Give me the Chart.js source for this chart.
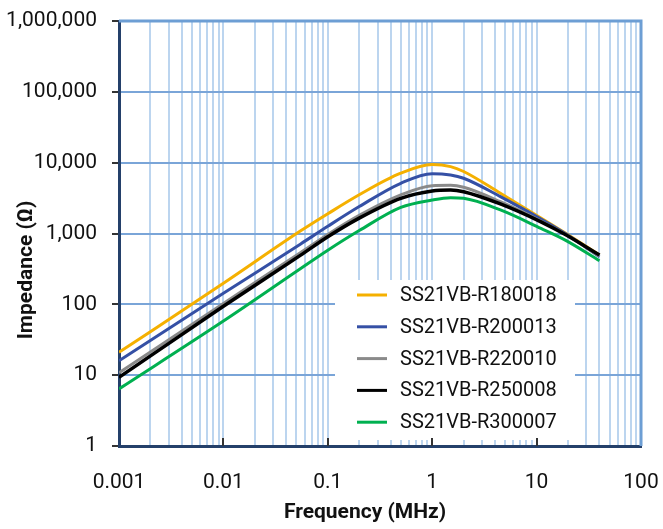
<!DOCTYPE html>
<html>
<head>
<meta charset="utf-8">
<title>Impedance vs Frequency</title>
<script src="https://cdn.jsdelivr.net/npm/chart.js@4.4.1/dist/chart.umd.min.js"></script>
<style>
  html, body { margin: 0; padding: 0; background: #fff; }
  #wrap { width: 663px; height: 529px; }
</style>
</head>
<body>
<div id="wrap"><canvas id="impChart" width="663" height="529"></canvas></div>
<script>
const FONT = "Roboto, 'DejaVu Sans Condensed', sans-serif";

// frequency (MHz) where the curves were read
const freqMHz = [0.001, 0.01, 0.055, 0.1, 0.2, 0.5, 1, 1.5, 2, 4.5, 11, 19, 40];

const seriesNames = ["SS21VB-R180018", "SS21VB-R200013", "SS21VB-R220010", "SS21VB-R250008", "SS21VB-R300007"];
const seriesColors = ["#f5b000", "#3550a5", "#8a8a8a", "#000000", "#00b050"];

// impedance (ohm)
const zR180018 = [21, 198, 1090, 1900, 3520, 7100, 9400, 8800, 7500, 3700, 1660, 1005, 497];
const zR200013 = [16, 143, 713, 1265, 2400, 5120, 7000, 6700, 6020, 3310, 1600, 990, 471];
const zR220010 = [10.8, 103, 540, 970, 1800, 3500, 4730, 4790, 4490, 2810, 1500, 970, 481];
const zR250008 = [9.3, 94, 495, 900, 1650, 3140, 3990, 4110, 3890, 2610, 1460, 960, 497];
const zR300007 = [6.4, 58, 320, 580, 1100, 2340, 2970, 3200, 3140, 2150, 1180, 800, 413];

const xTickValues = [0.001, 0.01, 0.1, 1, 10, 100];
const xTickLabels = ["0.001", "0.01", "0.1", "1", "10", "100"];
const yTickValues = [1, 10, 100, 1000, 10000, 100000, 1000000];
const yTickLabels = ["1", "10", "100", "1,000", "10,000", "100,000", "1,000,000"];

const allZ = [zR180018, zR200013, zR220010, zR250008, zR300007];

function toPoints(zs) {
  return freqMHz.map((f, i) => ({ x: f, y: zs[i] }));
}

const datasets = allZ.map((zs, i) => ({
  label: seriesNames[i],
  data: toPoints(zs),
  borderColor: seriesColors[i],
  borderWidth: i === 3 ? 3.5 : 3,
  pointRadius: 0,
  cubicInterpolationMode: "monotone",
  fill: false,
  order: allZ.length - i, // later series drawn on top
}));

// log grid on x: 1..9 per decade
function xGridTicks() {
  const ticks = [];
  for (let d = 0; d < xTickValues.length - 1; d++) {
    for (let m = 1; m <= 9; m++) {
      ticks.push({ value: xTickValues[d] * m, major: m === 1 });
    }
  }
  ticks.push({ value: xTickValues[xTickValues.length - 1], major: true });
  return ticks;
}

const chartDecor = {
  id: "chartDecor",
  beforeDatasetsDraw(chart) {
    const { ctx, chartArea: a } = chart;
    ctx.save();
    ctx.strokeStyle = "#6d9ed4";
    ctx.lineWidth = 3;
    ctx.beginPath();
    ctx.moveTo(a.left, a.top);
    ctx.lineTo(a.right, a.top);
    ctx.lineTo(a.right, a.bottom);
    ctx.stroke();
    ctx.restore();
  },
  afterDatasetsDraw(chart) {
    // legend box inside the plot
    const { ctx, chartArea: a } = chart;
    const bx = a.left + 216;
    const by = a.top + 259;
    ctx.save();
    ctx.fillStyle = "#ffffff";
    ctx.fillRect(bx, by, 240, 160);
    ctx.font = "20px " + FONT;
    ctx.textBaseline = "middle";
    ctx.textAlign = "left";
    chart.data.datasets.forEach((ds, i) => {
      const y = by + 15 + i * 31.8;
      ctx.strokeStyle = ds.borderColor;
      ctx.lineWidth = 3;
      ctx.beginPath();
      ctx.moveTo(bx + 22, y);
      ctx.lineTo(bx + 52, y);
      ctx.stroke();
      ctx.fillStyle = "#111";
      ctx.fillText(ds.label, bx + 65, y + 1);
    });
    ctx.restore();
  },
  afterDraw(chart) {
    const { ctx, chartArea: a } = chart;
    const xs = chart.scales.x;
    ctx.save();
    // small tick marks inside, on the bottom axis
    ctx.strokeStyle = "#333";
    ctx.lineWidth = 2;
    xTickValues.slice(1, -1).forEach((v) => {
      const px = Math.round(xs.getPixelForValue(v));
      ctx.beginPath();
      ctx.moveTo(px, a.bottom);
      ctx.lineTo(px, a.bottom - 8);
      ctx.stroke();
    });
    // axis titles
    ctx.fillStyle = "#111";
    ctx.font = "bold 21px " + FONT;
    ctx.textAlign = "center";
    ctx.textBaseline = "alphabetic";
    ctx.fillText("Frequency (MHz)", a.left + 246, a.bottom + 72);
    ctx.translate(32, a.top + 249);
    ctx.rotate(-Math.PI / 2);
    ctx.fillText("Impedance (\u03A9)", 0, 0);
    ctx.restore();
  },
};

new Chart(document.getElementById("impChart"), {
  type: "line",
  data: { datasets },
  options: {
    responsive: false,
    animation: false,
    layout: { padding: { top: 21, right: 22, left: 0, bottom: 0 } },
    plugins: {
      legend: { display: false },
      tooltip: { enabled: false },
    },
    scales: {
      x: {
        type: "logarithmic",
        min: 0.001,
        max: 100,
        afterBuildTicks: (scale) => { scale.ticks = xGridTicks(); },
        afterFit: (scale) => {
          scale.height = 83;
          scale.paddingLeft = 0;
          scale.paddingRight = 0;
        },
        grid: {
          color: "#bcd5ef",
          lineWidth: 2,
          drawTicks: false,
        },
        border: { color: "#24406a", width: 3 },
        ticks: {
          autoSkip: false,
          maxRotation: 0,
          padding: 24,
          color: "#111",
          font: { family: FONT, size: 21 },
          callback: (value, index, ticks) =>
            ticks[index].major ? xTickLabels[xTickValues.indexOf(value)] : "",
        },
      },
      y: {
        type: "logarithmic",
        min: 1,
        max: 1000000,
        afterBuildTicks: (scale) => {
          scale.ticks = yTickValues.map((v) => ({ value: v, major: true }));
        },
        afterFit: (scale) => {
          scale.width = 119;
          scale.paddingTop = 0;
          scale.paddingBottom = 0;
        },
        grid: {
          color: "#7aa5d8",
          lineWidth: 2,
          tickLength: 7,
          tickColor: "#333",
        },
        border: { color: "#24406a", width: 3 },
        ticks: {
          autoSkip: false,
          padding: 15,
          color: "#111",
          font: { family: FONT, size: 21 },
          callback: (value, index) => yTickLabels[index],
        },
      },
    },
  },
  plugins: [chartDecor],
});
</script>
</body>
</html>
